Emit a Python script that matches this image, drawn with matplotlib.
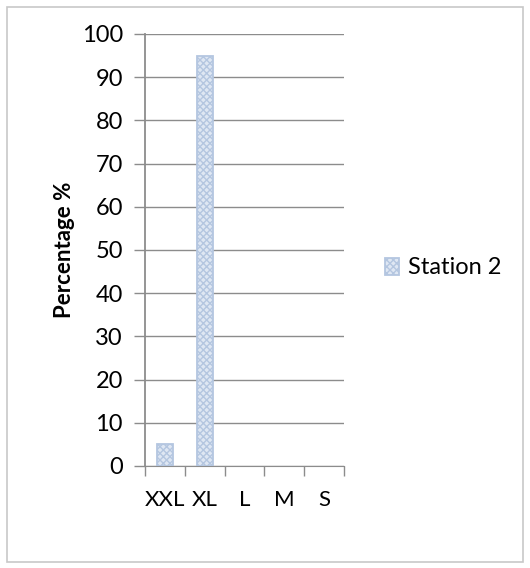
import matplotlib
matplotlib.use("Agg")
import matplotlib.pyplot as plt
from matplotlib.patches import Rectangle

categories = ["XXL", "XL", "L", "M", "S"]
station2 = [5, 95, 0, 0, 0]
series_label = "Station 2"
y_ticks = [0, 10, 20, 30, 40, 50, 60, 70, 80, 90, 100]

plt.rcParams["font.family"] = ["Lato", "DejaVu Sans"]
plt.rcParams["hatch.color"] = "#4a7bc0"
plt.rcParams["hatch.linewidth"] = 1.0

W, H = 530, 568
fig = plt.figure(figsize=(W / 100, H / 100), dpi=100)
ax = fig.add_axes([145 / W, 1 - 466 / H, (344 - 145) / W, (466 - 34) / H])

x = list(range(len(categories)))
bars = ax.bar(x, station2, width=0.4, facecolor="#dfe7f3", edgecolor="#b4c6e0",
              linewidth=1.3, hatch="xxxxx", label=series_label, zorder=3)
for rect, v in zip(bars, station2):
    if v == 0:
        rect.set_visible(False)

ax.set_xlim(-0.5, len(categories) - 0.5)
ax.set_ylim(0, 100)
ax.set_yticks(y_ticks)
ax.set_yticklabels([str(v) for v in y_ticks], fontsize=17)
ax.yaxis.grid(True, color="#8c8c8c", linewidth=1.0, zorder=0)
ax.set_axisbelow(True)

ax.set_xticks([i - 0.5 for i in range(len(categories) + 1)])
ax.set_xticklabels([])
ax.set_xticks(x, minor=True)
ax.set_xticklabels(categories, minor=True, fontsize=16)
ax.tick_params(axis="x", which="major", length=7, color="#8c8c8c", width=1)
ax.tick_params(axis="x", which="minor", length=0, pad=17)
ax.tick_params(axis="y", length=8, color="#8c8c8c", width=1, pad=8)

for s in ["top", "right"]:
    ax.spines[s].set_visible(False)
ax.spines["left"].set_color("#8c8c8c")
ax.spines["bottom"].set_color("#8c8c8c")
ax.spines["left"].set_linewidth(1.3)

ax.set_ylabel("Percentage %", fontsize=16, fontweight="bold", labelpad=5)

fig.legend(handles=[bars], labels=[series_label], loc="center left",
           bbox_to_anchor=(364 / W, 1 - 268 / H), frameon=False, fontsize=17,
           handlelength=0.6, handleheight=0.7, handletextpad=0.35)

fig.patches.append(Rectangle((7 / W, 6 / H), (523 - 7) / W, (561 - 6) / H,
                             transform=fig.transFigure, fill=False,
                             edgecolor="#c8c8c8", linewidth=1.2))

fig.savefig("out.png", dpi=100)
